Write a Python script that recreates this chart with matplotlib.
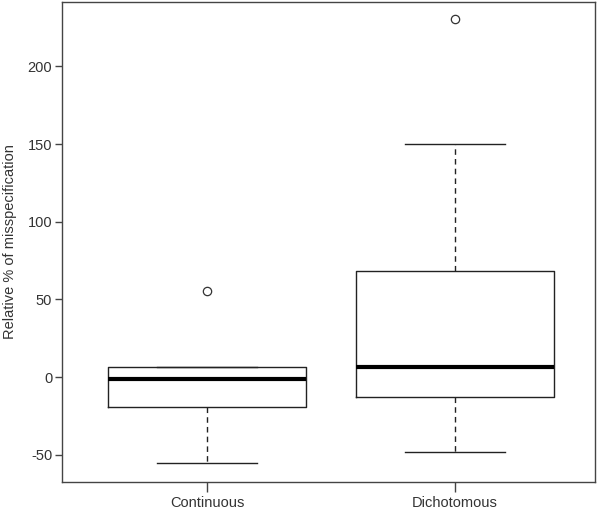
import matplotlib
matplotlib.use("Agg")
import matplotlib.pyplot as plt

categories = ["Continuous", "Dichotomous"]
whislo = [-55.4, -48.3]
q1 = [-19.3, -12.9]
median = [-1.3, 6.6]
q3 = [6.6, 68.3]
whishi = [6.6, 150.0]
outliers = [[55.4], [230.5]]
yticks = [-50, 0, 50, 100, 150, 200]

plt.rcParams['font.family'] = ['Liberation Sans', 'DejaVu Sans']

fig = plt.figure(figsize=(6.0, 5.09), dpi=100)
W, H = 600, 509
left, right, top, bottom = 62, 595, 2, 482
ax = fig.add_axes([left / W, 1 - bottom / H, (right - left) / W, (bottom - top) / H])

stats = []
for i, c in enumerate(categories):
    stats.append(dict(label=c, whislo=whislo[i], q1=q1[i], med=median[i],
                      q3=q3[i], whishi=whishi[i], fliers=outliers[i]))

lc = "#222222"
ax.bxp(stats, positions=[1, 2], widths=0.8, showfliers=True,
       boxprops=dict(color=lc, linewidth=1.0),
       medianprops=dict(color="black", linewidth=3.0, solid_capstyle="butt"),
       whiskerprops=dict(color=lc, linewidth=1.0, linestyle=(0, (4, 3))),
       capprops=dict(color=lc, linewidth=1.0),
       capwidths=0.4,
       flierprops=dict(marker="o", markerfacecolor="white", markeredgecolor="#333333",
                       markersize=6, markeredgewidth=0.9))

ax.set_xlim(0.415, 2.565)
ax.set_ylim(-67.5, 241.5)
ax.set_yticks(yticks)
ax.set_yticklabels([str(v) for v in yticks])
ax.set_xticks([1, 2])
ax.set_xticklabels(categories)

for s in ax.spines.values():
    s.set_color("#444444")
    s.set_linewidth(1.0)
ax.tick_params(axis="y", direction="out", length=5, width=1, color="#444444",
               labelcolor="#333333", labelsize=10.5, pad=2)
ax.tick_params(axis="x", direction="out", length=7, width=1, color="#444444",
               labelcolor="#333333", labelsize=10.5, pad=3)
ax.set_ylabel("Relative % of misspecification", fontsize=10.5, color="#333333", labelpad=8)

fig.savefig("out.png", dpi=100)
